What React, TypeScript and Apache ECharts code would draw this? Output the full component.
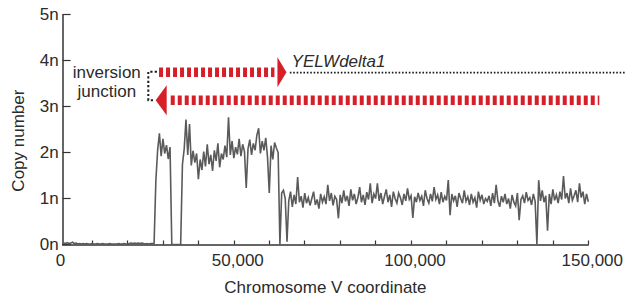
import React, { useEffect, useRef } from "react";
import * as echarts from "echarts";

// ---- data (copy number per 500 bp bin) ----
const BIN_START = 2000;
const BIN_SIZE = 500;
const copyNumber: number[] = [
  0.03, 0.02, 0.04, 0.02, 0.03, 0.05, 0.02, 0.03, 0.01, 0.02,
  0.01, 0.02, 0.01, 0.02, 0.01, 0.01, 0.02, 0.01, 0.01, 0.02,
  0.01, 0.01, 0.02, 0.01, 0.01, 0.01, 0.02, 0.01, 0.01, 0.01,
  0.01, 0.02, 0.01, 0.01, 0.02, 0.01, 0.01, 0.02, 0.03, 0.02,
  0.03, 0.02, 0.03, 0.02, 0.03, 0.02, 0.01, 0.02, 0.01, 0.02,
  0.02, 0.02, 1.38, 2.05, 2.42, 1.92, 2.3, 1.98, 2.16, 1.86,
  2.12, 0, 0, 0, 0, 0, 0, 1.74, 2.08, 2.72,
  1.95, 2.62, 1.72, 2.04, 1.78, 1.98, 1.42, 1.85, 1.62, 2.02,
  1.7, 2.18, 1.75, 1.95, 1.6, 2.05, 1.82, 2.2, 1.68, 1.98,
  1.85, 2.15, 1.9, 2.77, 1.95, 2.25, 1.88, 2.12, 1.96, 2.3,
  1.92, 2.18, 2.02, 1.23, 2.08, 2.28, 1.95, 2.2, 2.05, 2.38,
  2.53, 1.98, 2.25, 2.05, 2.32, 1.9, 1.12, 2.15, 1.85, 2.22,
  2.1, 2.0, 0.0, 1.12, 1.18, 1.0, 0.06, 0.95, 1.15, 0.82,
  1.08, 0.88, 1.47, 0.92, 1.05, 0.8, 1.12, 0.9, 1.02, 0.85,
  1.0, 1.15, 0.86, 0.98, 0.78, 1.1, 0.92, 1.04, 0.88, 1.3,
  0.95, 1.12, 0.85, 1.05, 0.98, 0.57, 1.08, 0.9, 1.18, 0.94,
  1.06, 0.84, 1.2, 0.96, 1.1, 0.88, 1.02, 1.25, 0.92, 1.08,
  0.86, 1.14, 0.98, 1.33, 0.9, 1.1, 1.0, 1.33, 0.95, 1.12,
  0.88, 1.05, 1.2, 0.92, 1.08, 0.82, 1.15, 1.0, 0.9, 1.12,
  1.02, 0.86, 1.1, 0.95, 1.22, 0.98, 1.06, 0.58, 1.04, 0.92,
  1.12, 0.96, 1.05, 0.84, 1.18, 1.0, 0.9, 1.1, 0.94, 1.25,
  0.98, 1.08, 0.88, 1.14, 0.92, 1.05, 0.96, 1.4, 0.64, 1.1,
  0.95, 1.06, 0.82, 1.12, 1.0, 0.9, 1.18, 0.94, 1.04, 0.86,
  1.1, 0.92, 1.02, 0.8, 1.15, 0.96, 1.08, 0.88, 1.0, 0.94,
  1.06, 0.84, 1.12, 0.9, 1.3, 0.95, 0.82, 1.05, 0.92, 1.1,
  0.88, 1.0, 0.78, 1.08, 0.92, 0.84, 1.12, 0.53, 0.98, 1.06,
  0.9, 1.14, 0.96, 1.02, 0.86, 1.1, 0.94, 0.0, 1.4, 0.95,
  1.18, 0.92, 1.06, 0.3, 1.1, 0.88, 1.2, 0.96, 1.08, 0.9,
  1.15, 0.98, 1.49, 1.0, 1.12, 0.9, 1.22, 0.96, 1.06, 1.18,
  0.92, 1.33, 1.02, 1.15, 0.88, 1.1, 0.93,
];

const xTickValues = [
  10000, 20000, 30000, 40000, 50000, 60000, 70000, 80000,
  90000, 100000, 110000, 120000, 130000, 140000, 150000,
];
const xLabelValues = [0, 50000, 100000, 150000];
const yTickValues = [0, 1, 2, 3, 4, 5];

// ---- annotation anchors (bp / copy-number units) ----
const bracketPos = 25870;
const bracketTopEnd = 28300;
const bracketBottomEnd = 27760;
const topArrowStart = 28900;
const topArrowHeadBase = 62300;
const topArrowTip = 64850;
const topLevel = 3.75;
const bottomArrowTip = 27950;
const bottomArrowHeadBase = 31050;
const bottomArrowDashStart = 32200;
const bottomArrowDashEnd = 153100;
const bottomLevel = 3.14;
const deltaLineStart = 65800;
const deltaLineEnd = 160300;
const deltaLineLevel = 3.74;
const deltaLabelPos = 66300;
const deltaLabelLevel = 3.99;
const junctionLabelPos = 14160;
const junctionLabelLevels = [3.742, 3.325];
const junctionLabels = ["inversion", "junction"];
const deltaLabel = "YELWdelta1";

const FONT = "'Liberation Sans', Arial, Helvetica, sans-serif";
const TEXT = "#2b2b2b";
const RED = "#d71f2a";

export default function App() {
  const ref = useRef<HTMLDivElement>(null);

  useEffect(() => {
    if (!ref.current) return;
    const chart = echarts.init(ref.current, undefined, { renderer: "svg" });

    const lineData = copyNumber.map((v, i) => [BIN_START + i * BIN_SIZE, v]);

    const option: any = {
      animation: false,
      backgroundColor: "#ffffff",
      textStyle: { fontFamily: FONT },
      grid: [
        { left: 56.6, right: 38.7, top: 14.7, bottom: 58.5, containLabel: false },
        { left: 62.6, right: 38.7, top: 14.7, bottom: 58.5, containLabel: false },
      ],
      xAxis: [
        {
          type: "value",
          gridIndex: 0,
          min: 0,
          max: 150000,
          axisLine: { show: false },
          axisTick: {
            show: true,
            inside: true,
            length: 4,
            customValues: xTickValues,
            lineStyle: { color: "#333", width: 1.2 },
          },
          axisLabel: {
            show: true,
            customValues: xLabelValues,
            margin: 7,
            fontSize: 17,
            fontFamily: FONT,
            color: TEXT,
            padding: [0, 0, 0, 8],
            formatter: (v: number) => v.toLocaleString("en-US"),
          },
          splitLine: { show: false },
        },
        {
          type: "value",
          gridIndex: 1,
          min: 0,
          max: 1,
          axisLine: { show: true, lineStyle: { color: "#333", width: 1.5 } },
          axisTick: { show: false },
          axisLabel: { show: false },
          splitLine: { show: false },
          name: "Chromosome V coordinate",
          nameLocation: "middle",
          nameGap: 34,
          nameTextStyle: { fontSize: 17, fontFamily: FONT, color: TEXT },
        },
      ],
      yAxis: [
        { type: "value", gridIndex: 0, min: 0, max: 5, show: false },
        {
          type: "value",
          gridIndex: 1,
          min: 0,
          max: 5,
          interval: 1,
          axisLine: { show: true, lineStyle: { color: "#333", width: 1.5 } },
          axisTick: {
            show: true,
            inside: true,
            length: 8,
            customValues: yTickValues,
            lineStyle: { color: "#333", width: 1.2 },
          },
          axisLabel: {
            margin: 4,
            fontSize: 17,
            fontFamily: FONT,
            color: TEXT,
            formatter: (v: number) => `${v}n`,
          },
          splitLine: { show: false },
          name: "Copy number",
          nameLocation: "middle",
          nameGap: 36,
          nameTextStyle: {
            fontSize: 17,
            fontFamily: FONT,
            color: TEXT,
            padding: [0, 22, 0, 0],
          },
        },
      ],
      series: [
        {
          type: "line",
          xAxisIndex: 0,
          yAxisIndex: 0,
          data: lineData,
          showSymbol: false,
          symbol: "none",
          lineStyle: { color: "#5a5a5a", width: 1.6, join: "miter" },
          z: 2,
        },
        {
          type: "custom",
          xAxisIndex: 0,
          yAxisIndex: 0,
          clip: false,
          silent: true,
          z: 5,
          data: [[topArrowStart, topLevel]],
          renderItem: (_params: any, api: any) => {
            const c = (x: number, y: number) => api.coord([x, y]);
            const [tx0, ty] = c(topArrowStart, topLevel);
            const [thx] = c(topArrowHeadBase, topLevel);
            const [ttx] = c(topArrowTip, topLevel);
            const [btx, by] = c(bottomArrowTip, bottomLevel);
            const [bhx] = c(bottomArrowHeadBase, bottomLevel);
            const [bx0] = c(bottomArrowDashStart, bottomLevel);
            const [bx1] = c(bottomArrowDashEnd, bottomLevel);
            const [dx0, dy] = c(deltaLineStart, deltaLineLevel);
            const [dx1] = c(deltaLineEnd, deltaLineLevel);
            const [brx, bry0] = c(bracketPos, topLevel + 0.01);
            const [, bry1] = c(bracketPos, bottomLevel);
            const [brTopEnd] = c(bracketTopEnd, topLevel);
            const [brBotEnd] = c(bracketBottomEnd, bottomLevel);
            const [lx, ly] = c(deltaLabelPos, deltaLabelLevel);
            const half = 15;
            const children: any[] = [
              {
                type: "line",
                shape: { x1: tx0, y1: ty, x2: thx - 3, y2: ty },
                style: { stroke: RED, lineWidth: 9.5, lineDash: [4, 3], lineCap: "butt" },
              },
              {
                type: "polygon",
                shape: { points: [[thx, ty - half], [ttx, ty], [thx, ty + half]] },
                style: { fill: RED },
              },
              {
                type: "polygon",
                shape: { points: [[bhx, by - half], [btx, by], [bhx, by + half]] },
                style: { fill: RED },
              },
              {
                type: "line",
                shape: { x1: bx0, y1: by, x2: bx1, y2: by },
                style: { stroke: RED, lineWidth: 9.5, lineDash: [4, 3], lineCap: "butt" },
              },
              {
                type: "line",
                shape: { x1: dx0, y1: dy, x2: dx1, y2: dy },
                style: { stroke: "#1a1a1a", lineWidth: 1.6, lineDash: [1.6, 1.8] },
              },
              {
                type: "polyline",
                shape: {
                  points: [
                    [brTopEnd, bry0],
                    [brx, bry0],
                    [brx, bry1],
                    [brBotEnd, bry1],
                  ],
                },
                style: { stroke: "#1a1a1a", lineWidth: 2, lineDash: [2.2, 2.2], fill: null },
              },
              {
                type: "text",
                style: {
                  text: deltaLabel,
                  x: lx,
                  y: ly,
                  fill: TEXT,
                  font: `italic 17px ${FONT}`,
                  align: "left",
                  verticalAlign: "middle",
                },
              },
            ];
            junctionLabels.forEach((t, i) => {
              const [jx, jy] = c(junctionLabelPos, junctionLabelLevels[i]);
              children.push({
                type: "text",
                style: {
                  text: t,
                  x: jx,
                  y: jy,
                  fill: TEXT,
                  font: `17px ${FONT}`,
                  align: "center",
                  verticalAlign: "middle",
                },
              });
            });
            return { type: "group", children };
          },
        },
      ],
    };

    chart.setOption(option);
    return () => chart.dispose();
  }, []);

  return (
    <div
      ref={ref}
      style={{ position: "fixed", left: 0, top: 0, width: 627, height: 303, background: "#fff" }}
    />
  );
}
